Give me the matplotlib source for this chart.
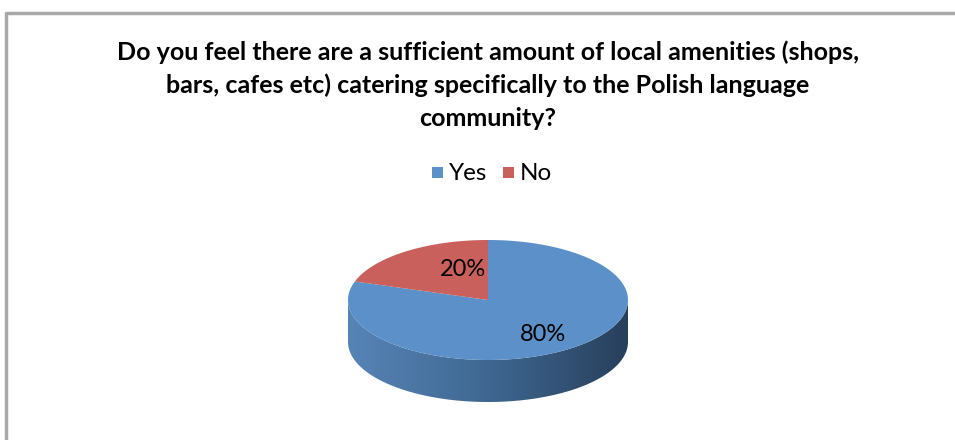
import numpy as np
import matplotlib
matplotlib.use("Agg")
from matplotlib import pyplot as plt
from matplotlib.patches import Polygon, Rectangle
from matplotlib.colors import LinearSegmentedColormap

labels = ["Yes", "No"]
values = [80, 20]
pct_labels = ["80%", "20%"]
title = ("Do you feel there are a sufficient amount of local amenities (shops,\n"
         "bars, cafes etc) catering specifically to the Polish language\n"
         "community?")

top_colors = ["#5b90c8", "#c9605b"]
side_cmaps = [["#5784b7", "#3f6791", "#283f5b"], ["#b0504c", "#9a403c", "#6e2c2a"]]

W, H = 955, 440
cx, cy = 488, 300
rx, ry = 140, 60
depth = 42

plt.rcParams["font.family"] = ["Lato", "DejaVu Sans"]

fig = plt.figure(figsize=(W / 100, H / 100), dpi=100)
ax = fig.add_axes([0, 0, 1, 1])
ax.set_xlim(0, W)
ax.set_ylim(H, 0)
ax.axis("off")


def pt(t, dy=0):
    t = np.radians(t)
    return cx + rx * np.cos(t), cy - ry * np.sin(t) + dy


# chart frame
ax.plot([6, 6, W], [H, 13.5, 13.5], color="#a9a9a9", lw=2.5, solid_capstyle="butt")

# slices go clockwise from 12 o'clock
total = float(sum(values))
starts, ends = [], []
a = 90.0
for v in values:
    b = a - 360.0 * v / total
    starts.append(a)
    ends.append(b)
    a = b

# sides (front half only)
for i in range(len(values)):
    lo, hi = ends[i], starts[i]
    for k in (-1, 0, 1):
        s0, s1 = max(lo, k * 360 - 180), min(hi, k * 360)
        if s1 <= s0:
            continue
        ts = np.linspace(s0, s1, 120)
        top = [pt(t) for t in ts]
        bot = [pt(t, depth) for t in ts[::-1]]
        poly = Polygon(top + bot, closed=True, facecolor="none", edgecolor="none")
        ax.add_patch(poly)
        cmap = LinearSegmentedColormap.from_list("side%d" % i, side_cmaps[i])
        grad = np.linspace(0, 1, 256).reshape(1, -1)
        im = ax.imshow(grad, cmap=cmap, aspect="auto",
                       extent=[cx - rx, cx + rx, cy + ry + depth, cy - 2],
                       zorder=1)
        im.set_clip_path(poly)

# top face
for i in range(len(values)):
    ts = np.linspace(starts[i], ends[i], 200)
    ax.add_patch(Polygon([(cx, cy)] + [pt(t) for t in ts], closed=True,
                         facecolor=top_colors[i], edgecolor="none", zorder=2))

# data labels
label_off = [(0.39, 0.58), (-0.18, -0.5)]
for i in range(len(values)):
    ax.text(cx + label_off[i][0] * rx, cy + label_off[i][1] * ry, pct_labels[i],
            ha="center", va="center", fontsize=17, color="#000000", zorder=3)

# title
ax.text(488, 85, title, ha="center", va="center", fontsize=18,
        fontweight="bold", linespacing=1.5)

# legend
leg_x = [432, 503]
for i in range(len(labels)):
    ax.add_patch(Rectangle((leg_x[i], 167), 11, 11, facecolor=top_colors[i],
                           edgecolor="none"))
    ax.text(leg_x[i] + 17, 173.5, labels[i], ha="left", va="center", fontsize=17.5)

fig.savefig("out.png", dpi=100)
